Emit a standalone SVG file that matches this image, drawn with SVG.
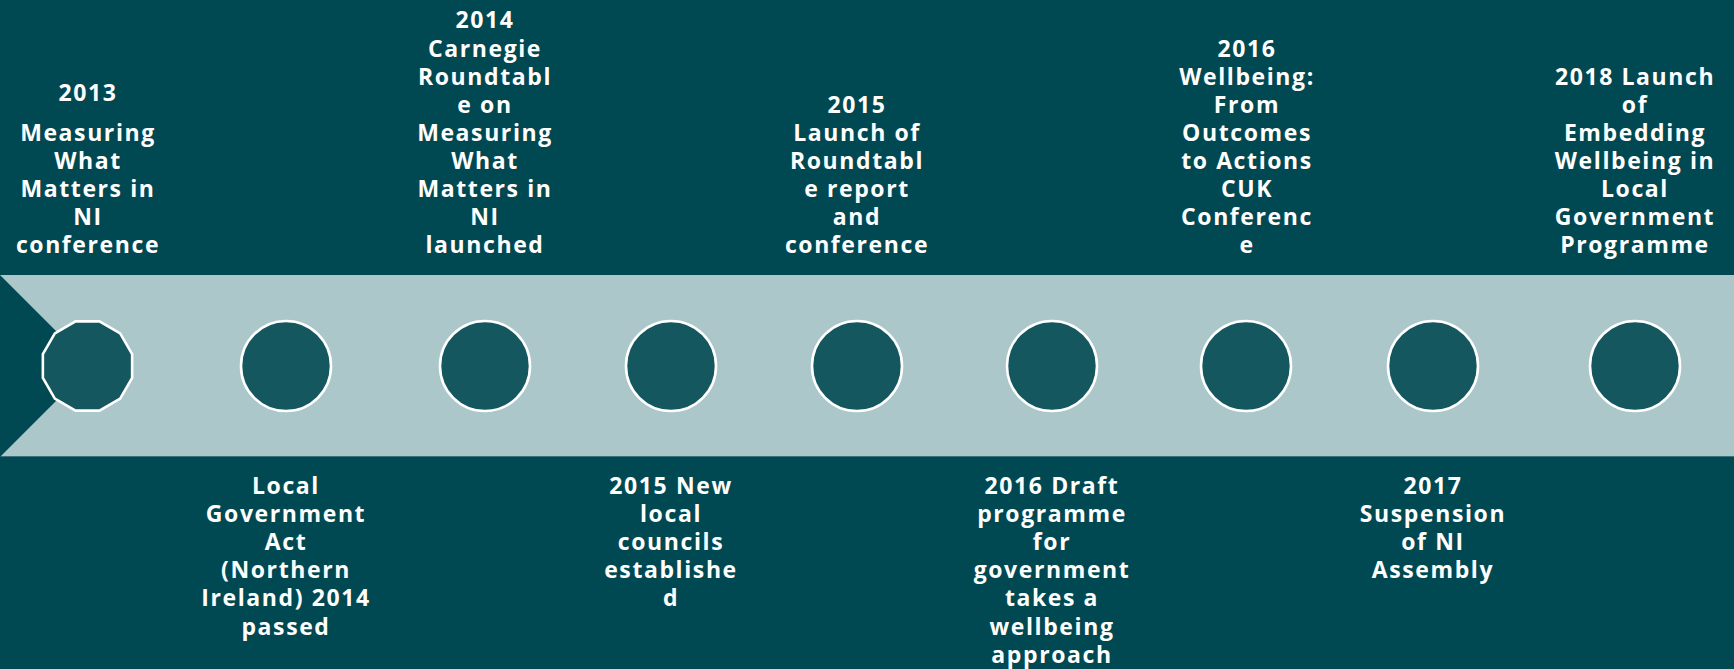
<svg xmlns="http://www.w3.org/2000/svg" width="1734" height="669" viewBox="0 0 1734 669">
<style>
.t{font-family:"Open Sans","Liberation Sans",sans-serif;font-weight:700;font-size:23px;fill:#ffffff;text-anchor:middle;letter-spacing:1.6px}
.dot{fill:#15575f;stroke:#ffffff;stroke-width:2.6}
</style>
<rect x="0" y="0" width="1734" height="669" fill="#004952"/>
<g id="connectors">
<rect x="0" y="275" width="1734" height="182" fill="#acc7ca"/>
<rect x="0" y="456" width="1734" height="1" fill="#3a737a"/>
<polygon points="0,275 91,366 0,457" fill="#004952"/>
</g>
<g id="n1">
<polygon class="dot" points="132.13,354.04 120.17,333.33 99.46,321.37 75.54,321.37 54.83,333.33 42.87,354.04 42.87,377.96 54.83,398.67 75.54,410.63 99.46,410.63 120.17,398.67 132.13,377.96"/>
<text class="t"><tspan x="88" y="100.5">2013</tspan><tspan x="88" y="140.7">Measuring</tspan><tspan x="88" y="168.8">What</tspan><tspan x="88" y="197">Matters in</tspan><tspan x="88" y="225.1">NI</tspan><tspan x="88" y="253.2">conference</tspan></text>
</g>
<g id="n2">
<circle class="dot" cx="286" cy="366" r="45"/>
<text class="t"><tspan x="286" y="494">Local</tspan><tspan x="286" y="522.1">Government</tspan><tspan x="286" y="550.2">Act</tspan><tspan x="286" y="578.3">(Northern</tspan><tspan x="286" y="606.4">Ireland) 2014</tspan><tspan x="286" y="634.5">passed</tspan></text>
</g>
<g id="n3">
<circle class="dot" cx="485" cy="366" r="45"/>
<text class="t"><tspan x="485" y="28.4">2014</tspan><tspan x="485" y="56.5">Carnegie</tspan><tspan x="485" y="84.6">Roundtabl</tspan><tspan x="485" y="112.7">e on</tspan><tspan x="485" y="140.8">Measuring</tspan><tspan x="485" y="168.9">What</tspan><tspan x="485" y="197">Matters in</tspan><tspan x="485" y="225.1">NI</tspan><tspan x="485" y="253.2">launched</tspan></text>
</g>
<g id="n4">
<circle class="dot" cx="671" cy="366" r="45"/>
<text class="t"><tspan x="671" y="494">2015 New</tspan><tspan x="671" y="522.1">local</tspan><tspan x="671" y="550.2">councils</tspan><tspan x="671" y="578.3">establishe</tspan><tspan x="671" y="606.4">d</tspan></text>
</g>
<g id="n5">
<circle class="dot" cx="857" cy="366" r="45"/>
<text class="t"><tspan x="857" y="112.7">2015</tspan><tspan x="857" y="140.8">Launch of</tspan><tspan x="857" y="168.9">Roundtabl</tspan><tspan x="857" y="197">e report</tspan><tspan x="857" y="225.1">and</tspan><tspan x="857" y="253.2">conference</tspan></text>
</g>
<g id="n6">
<circle class="dot" cx="1052" cy="366" r="45"/>
<text class="t"><tspan x="1052" y="494">2016 Draft</tspan><tspan x="1052" y="522.1">programme</tspan><tspan x="1052" y="550.2">for</tspan><tspan x="1052" y="578.3">government</tspan><tspan x="1052" y="606.4">takes a</tspan><tspan x="1052" y="634.5">wellbeing</tspan><tspan x="1052" y="662.6">approach</tspan></text>
</g>
<g id="n7">
<circle class="dot" cx="1246" cy="366" r="45"/>
<text class="t"><tspan x="1247" y="56.5">2016</tspan><tspan x="1247" y="84.6">Wellbeing:</tspan><tspan x="1247" y="112.7">From</tspan><tspan x="1247" y="140.8">Outcomes</tspan><tspan x="1247" y="168.9">to Actions</tspan><tspan x="1247" y="197">CUK</tspan><tspan x="1247" y="225.1">Conferenc</tspan><tspan x="1247" y="253.2">e</tspan></text>
</g>
<g id="n8">
<circle class="dot" cx="1433" cy="366" r="45"/>
<text class="t"><tspan x="1433" y="494">2017</tspan><tspan x="1433" y="522.1">Suspension</tspan><tspan x="1433" y="550.2">of NI</tspan><tspan x="1433" y="578.3">Assembly</tspan></text>
</g>
<g id="n9">
<circle class="dot" cx="1635" cy="366" r="45"/>
<text class="t"><tspan x="1635" y="84.6">2018 Launch</tspan><tspan x="1635" y="112.7">of</tspan><tspan x="1635" y="140.8">Embedding</tspan><tspan x="1635" y="168.9">Wellbeing in</tspan><tspan x="1635" y="197">Local</tspan><tspan x="1635" y="225.1">Government</tspan><tspan x="1635" y="253.2">Programme</tspan></text>
</g>
</svg>
